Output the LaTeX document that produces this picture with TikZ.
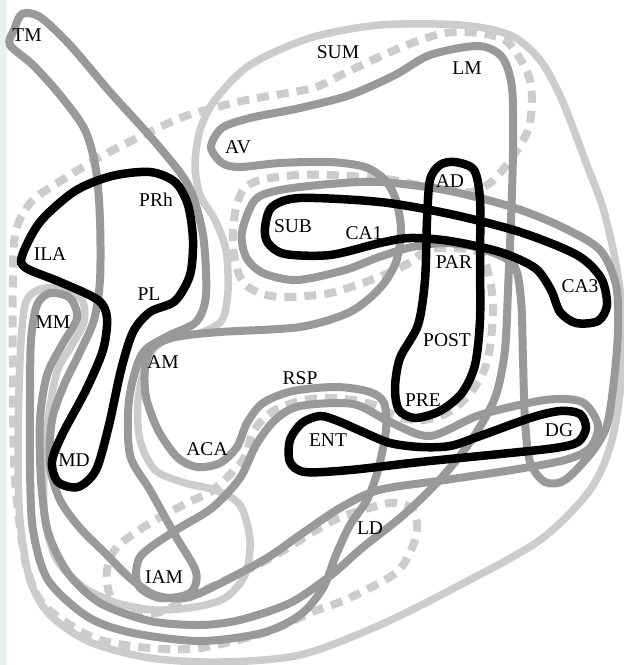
\documentclass[tikz,border=0pt]{standalone}
\usepackage{fontspec}
\setmainfont{Liberation Serif}
\definecolor{RegionDark}{HTML}{999999}
\definecolor{RegionLight}{HTML}{CCCCCC}
\definecolor{EdgeMint}{HTML}{E6F2EE}

\begin{document}
\begin{tikzpicture}[x=1pt,y=-1pt,
  darkline/.style={RegionDark,line width=8pt},
  lightline/.style={RegionLight,line width=7.5pt},
  dashline/.style={RegionLight,line width=8pt,dash pattern=on 12pt off 8pt},
  blackline/.style={black,line width=8.5pt},
  lbl/.style={font=\fontsize{19.5}{21}\selectfont,inner sep=0pt}]
  \useasboundingbox (0,0) rectangle (624,665);
  \fill[EdgeMint] (0,0) rectangle (7,665);
  % light outline
  \draw[lightline] plot[smooth cycle] coordinates
    {(228,290)(222,320)(200,333)(165,340)(148,358)(138,400)(140,440)(155,470)(185,483)
     (215,490)(240,505)(250,540)(245,575)(225,598)(195,607)(155,610)(117,603)(83,587)
     (57,560)(45,520)(44,470)(48,420)(57,372)(72,345)(84,322)(82,300)(62,288)(38,290)
     (25,305)(20,360)(18,450)(20,520)(30,580)(50,615)(90,642)(150,658)(220,662)(300,655)
     (380,625)(460,585)(540,540)(590,490)(612,440)(622,370)(620,290)(605,215)(585,160)
     (562,100)(540,60)(510,35)(460,25)(380,25)(310,38)(250,65)(215,100)(200,130)(195,165)
     (200,195)(215,220)(226,250)};
  % dashed outline
  \draw[dashline] plot[smooth cycle] coordinates
    {(13,267)(17,227)(33,200)(67,177)(100,157)(133,140)(183,117)(233,103)(263,97)(313,88)
     (345,73)(379,57)(412,43)(445,33)(479,33)(505,40)(519,57)(529,77)(532,100)(529,127)
     (519,147)(505,167)(490,183)(470,192)(428,187)(393,180)(363,177)(330,175)(297,175)
     (260,180)(243,190)(235,213)(233,247)(240,277)(253,290)(280,297)(330,293)(379,277)
     (409,263)(427,250)(453,248)(480,253)(490,280)(493,310)(490,347)(483,373)(467,397)
     (447,413)(423,420)(397,417)(380,407)(353,400)(320,398)(293,403)(270,413)(253,432)
     (243,460)(213,490)(187,503)(150,523)(117,547)(107,570)(110,595)(127,613)(160,612)
     (200,592)(267,560)(330,522)(363,510)(390,503)(410,507)(417,523)(415,540)(405,562)
     (390,577)(345,600)(312,612)(267,632)(200,648)(150,648)(100,640)(67,623)(40,600)
     (25,560)(15,480)(13,400)};
  % dark outlines
  \draw[darkline] plot[smooth cycle] coordinates
    {(242,232)(255,200)(280,190)(330,184)(380,182)(445,190)(512,207)(562,227)(600,250)
     (616,285)(618,330)(614,380)(607,425)(592,452)(565,480)(545,482)(530,462)(525,420)
     (523,360)(521,300)(513,264)(479,248)(445,243)(412,247)(379,257)(345,270)(297,280)
     (263,273)(246,257)};
  \draw[darkline] plot[smooth cycle] coordinates
    {(14,30)(22,14)(40,17)(70,45)(110,92)(155,142)(188,185)(203,235)(206,295)(196,322)
     (168,336)(142,354)(129,400)(130,455)(150,490)(175,535)(196,572)(190,593)(160,598)
     (138,585)(140,557)(173,532)(212,508)(240,478)(256,445)(275,420)(300,406)(353,404)
     (390,422)(430,436)(480,415)(545,400)(582,402)(598,425)(590,448)(565,460)(512,470)
     (445,480)(379,490)(340,508)(300,535)(267,558)(217,585)(185,598)(155,595)(130,578)
     (105,553)(80,528)(60,500)(50,465)(52,420)(64,385)(80,352)(94,320)(100,280)(100,220)
     (96,170)(85,130)(60,95)(33,65)(10,45)};
  \draw[darkline] plot[smooth cycle] coordinates
    {(211,147)(222,128)(250,118)(300,108)(350,95)(395,75)(430,55)(478,46)(502,57)(512,88)
     (513,150)(511,220)(508,290)(505,350)(496,395)(478,430)(455,462)(430,490)(400,518)
     (362,548)(330,576)(290,603)(240,620)(200,625)(150,621)(100,603)(68,573)(48,532)
     (41,480)(40,420)(47,375)(62,345)(77,318)(70,298)(50,293)(37,305)(31,340)(30,400)
     (30,470)(33,530)(48,580)(88,617)(133,633)(200,641)(262,633)(300,615)(323,588)
     (336,555)(350,525)(367,500)(378,470)(386,430)(384,403)(370,392)(337,387)
     (293,391)(263,403)(247,423)(237,447)(220,463)(197,467)(177,457)(158,430)(146,397)
     (145,368)(152,348)(175,337)(220,332)(300,327)(350,312)(380,288)(396,262)(401,230)
     (396,200)(385,180)(365,167)(330,162)(280,163)(240,167)(222,163)};
  % black outlines
  \draw[blackline] plot[smooth cycle] coordinates
    {(22,256)(40,222)(75,191)(112,176)(150,172)(175,182)(188,205)(193,240)(190,275)
     (175,301)(150,312)(133,332)(121,370)(109,425)(96,470)(78,487)(58,482)(52,462)
     (62,435)(86,390)(103,350)(107,318)(98,300)(60,282)(26,268)};
  \draw[blackline] plot[smooth cycle] coordinates
    {(265,228)(272,207)(300,198)(380,202)(450,214)(520,232)(577,255)(601,278)(607,305)
     (598,321)(576,323)(560,312)(551,290)(535,268)(500,252)(450,241)(410,238)(380,243)
     (330,255)(285,254)(268,243)};
  \draw[blackline] plot[smooth cycle] coordinates
    {(455,162)(474,170)(480,200)(480,260)(480,320)(475,365)(462,393)(440,411)(415,418)
     (399,410)(395,388)(400,358)(418,325)(425,280)(427,220)(430,180)(440,165)};
  \draw[blackline] plot[smooth cycle] coordinates
    {(320,416)(338,421)(363,432)(390,443)(420,447)(450,446)(480,436)(530,418)(560,411)
     (580,414)(586,428)(578,442)(555,448)(500,454)(420,462)(350,470)(305,472)(290,462)
     (290,440)(302,423)};
  % labels
  \node[lbl] (tm) at (27,35) {TM};
  \node[lbl] (sum) at (338,52) {SUM};
  \node[lbl] (lm) at (467,68) {LM};
  \node[lbl] (av) at (238,147) {AV};
  \node[lbl] (ad) at (450,181) {AD};
  \node[lbl] (prh) at (156,200) {PRh};
  \node[lbl] (sub) at (293,226) {SUB};
  \node[lbl] (caone) at (364,233) {CA1};
  \node[lbl] (ila) at (50,254) {ILA};
  \node[lbl] (par) at (454,262) {PAR};
  \node[lbl] (cathree) at (580,286) {CA3};
  \node[lbl] (pl) at (149,294) {PL};
  \node[lbl] (mm) at (53,322) {MM};
  \node[lbl] (post) at (447,340) {POST};
  \node[lbl] (am) at (163,362) {AM};
  \node[lbl] (rsp) at (300,378) {RSP};
  \node[lbl] (pre) at (423,400) {PRE};
  \node[lbl] (ent) at (328,440) {ENT};
  \node[lbl] (dg) at (559,430) {DG};
  \node[lbl] (aca) at (207,449) {ACA};
  \node[lbl] (md) at (74,460) {MD};
  \node[lbl] (ld) at (370,528) {LD};
  \node[lbl] (iam) at (164,577) {IAM};
\end{tikzpicture}
\end{document}
